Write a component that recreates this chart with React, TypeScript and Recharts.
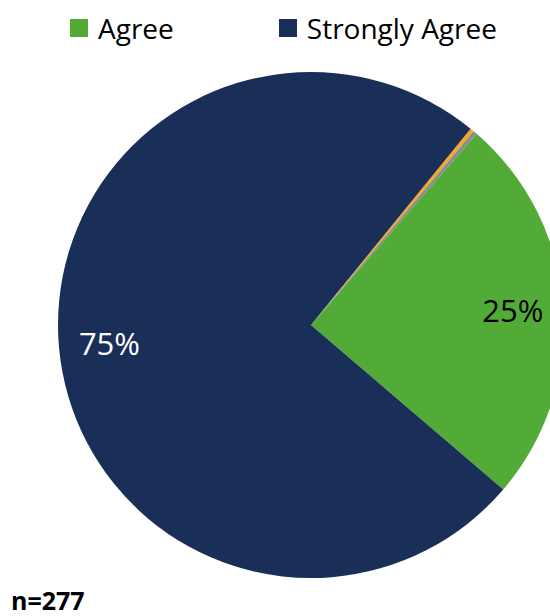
import { PieChart, Pie, Cell, Legend } from "recharts";

const labels = ["Neutral", "Disagree", "Agree", "Strongly Agree"];
const shares = [0.25, 0.25, 24.9, 74.6];
const pctText = ["", "", "25%", "75%"];
const colors = ["#f6a623", "#8c8c8c", "#53ab37", "#1a2f58"];
const labelColors = ["#000", "#000", "#000", "#fff"];
const legendItems = ["Agree", "Strongly Agree"];

const data = labels.map((name, i) => ({ name, value: shares[i], pct: pctText[i] }));

const FONT = "'Open Sans', sans-serif";

const RAD = Math.PI / 180;

function renderLabel(props: any) {
  const { cx, cy, midAngle, outerRadius, index } = props;
  if (!pctText[index]) return null;
  const r = outerRadius * 0.8;
  const x = cx + r * Math.cos(-midAngle * RAD);
  const y = cy + r * Math.sin(-midAngle * RAD);
  return (
    <text x={x} y={y} fill={labelColors[index]} fontSize={31} fontFamily={FONT}
      textAnchor="middle" dominantBaseline="central">
      {pctText[index]}
    </text>
  );
}

function renderLegend() {
  return (
    <div style={{ display: "flex", fontFamily: FONT, fontSize: 28, color: "#000", lineHeight: "36px" }}>
      {legendItems.map((name, i) => {
        const idx = labels.indexOf(name);
        return (
          <div key={name} style={{ display: "flex", alignItems: "center", marginLeft: i === 0 ? 70 : 105 }}>
            <span style={{ width: 18, height: 18, background: colors[idx], display: "inline-block", marginRight: 10 }} />
            <span>{name}</span>
          </div>
        );
      })}
    </div>
  );
}

export default function App() {
  return (
    <div style={{ position: "absolute", left: 0, top: 0, width: 550, height: 616, background: "#fff" }}>
      <PieChart width={550} height={616} margin={{ top: 0, right: 0, bottom: 0, left: 0 }}>
        <Legend verticalAlign="middle" align="center" content={renderLegend}
          wrapperStyle={{ top: 10, left: 0, width: 550 }} />
        <Pie data={data} dataKey="value" nameKey="name" cx={311} cy={325} outerRadius={253}
          startAngle={50.9} endAngle={-309.1} stroke="none" label={renderLabel} labelLine={false}
          isAnimationActive={false}>
          {data.map((d, i) => (
            <Cell key={d.name} fill={colors[i]} />
          ))}
        </Pie>
      </PieChart>
      <div style={{ position: "absolute", left: 11, top: 589, fontFamily: FONT, fontWeight: 700, fontSize: 25, lineHeight: "22px" }}>
        n=277
      </div>
    </div>
  );
}
